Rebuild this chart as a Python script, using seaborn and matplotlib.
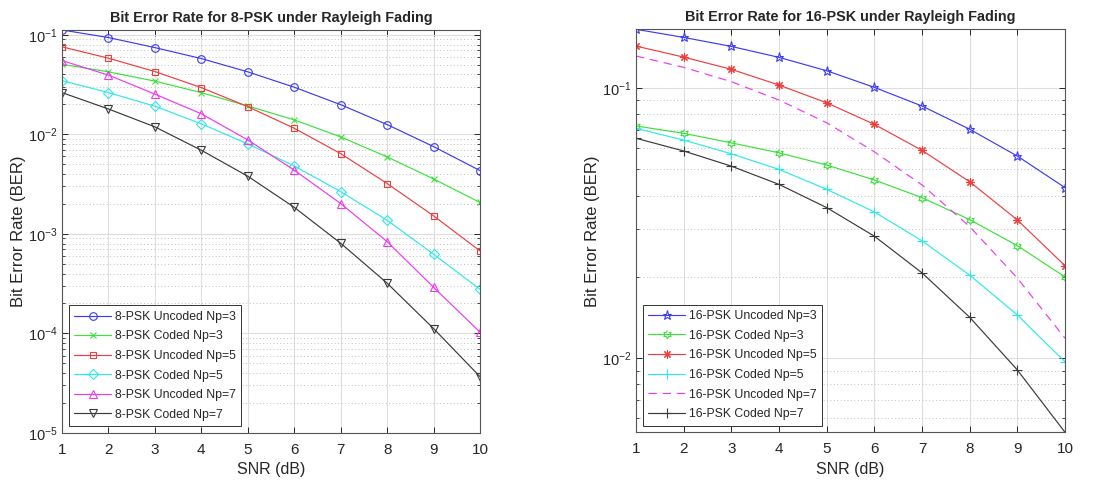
import numpy as np
import seaborn as sns
import matplotlib.pyplot as plt
from matplotlib.ticker import LogLocator, LogFormatterSciNotation, NullFormatter, FixedLocator

# SNR axis (dB)
snr = [1, 2, 3, 4, 5, 6, 7, 8, 9, 10]

# 8-PSK BER curves
ber8_unc_np3 = [0.112, 0.094, 0.0745, 0.0578, 0.0425, 0.0298, 0.0199, 0.01255, 0.00754, 0.00433]
ber8_cod_np3 = [0.0507, 0.0425, 0.0343, 0.0263, 0.0193, 0.0140, 0.00944, 0.00594, 0.00357, 0.00207]
ber8_unc_np5 = [0.0758, 0.0583, 0.0428, 0.0295, 0.0190, 0.01153, 0.00641, 0.00321, 0.00152, 0.000675]
ber8_cod_np5 = [0.0347, 0.0263, 0.0192, 0.01276, 0.00803, 0.00482, 0.00266, 0.001374, 0.000625, 0.000278]
ber8_unc_np7 = [0.0552, 0.0394, 0.0254, 0.0161, 0.0088, 0.00437, 0.00202, 0.000837, 0.000291, 0.000103]
ber8_cod_np7 = [0.0263, 0.0180, 0.0119, 0.00693, 0.0038, 0.00185, 0.000806, 0.00032, 0.000112, 0.0000368]

# 16-PSK BER curves
ber16_unc_np3 = [0.165, 0.154, 0.1426, 0.1299, 0.1159, 0.1006, 0.0858, 0.0704, 0.0560, 0.0428]
ber16_cod_np3 = [0.0724, 0.0680, 0.0627, 0.0576, 0.0519, 0.0457, 0.0393, 0.0326, 0.0261, 0.0200]
ber16_unc_np5 = [0.143, 0.1302, 0.1173, 0.1026, 0.0882, 0.0734, 0.0588, 0.0450, 0.0325, 0.0220]
ber16_cod_np5 = [0.0709, 0.0642, 0.0571, 0.0500, 0.0422, 0.0348, 0.0272, 0.0203, 0.01446, 0.0097]
ber16_unc_np7 = [0.1314, 0.1193, 0.1056, 0.0903, 0.0744, 0.0581, 0.0438, 0.0307, 0.0198, 0.01186]
ber16_cod_np7 = [0.0652, 0.0585, 0.0514, 0.0440, 0.0361, 0.0283, 0.0207, 0.01418, 0.00905, 0.00532]

FONT = ["Liberation Sans", "DejaVu Sans"]

sns.set_theme(style="white")
plt.rcParams["font.family"] = FONT
plt.rcParams["axes.unicode_minus"] = False

BLUE, GREEN, RED = "#3c3cf2", "#3ee03e", "#ef3e3e"
CYAN, MAGENTA, BLACK = "#30e8e8", "#ee3aee", "#3a3a3a"

# six-pointed star (MATLAB hexagram)
ang = np.deg2rad(np.arange(12) * 30 + 90)
rad = np.where(np.arange(12) % 2 == 0, 1.0, 0.577)
hexagram = list(zip(rad * np.cos(ang), rad * np.sin(ang)))


def draw(ax, x, y, color, marker, label, ls="-", ms=5.5):
    sns.lineplot(x=x, y=y, ax=ax, color=color, marker=marker, markersize=ms,
                 markerfacecolor="none", markeredgecolor=color, markeredgewidth=0.8,
                 linewidth=0.85, linestyle=ls, label=label, errorbar=None)


def style_axes(ax, title, ylim):
    ax.set_yscale("log")
    ax.set_xlim(1, 10)
    ax.set_ylim(*ylim)
    ax.xaxis.set_major_locator(FixedLocator(snr))
    ax.yaxis.set_major_locator(LogLocator(base=10))
    ax.yaxis.set_major_formatter(LogFormatterSciNotation())
    ax.yaxis.set_minor_locator(LogLocator(base=10, subs=np.arange(2, 10)))
    ax.yaxis.set_minor_formatter(NullFormatter())
    ax.grid(True, which="major", color="#dedede", linewidth=0.8, linestyle="-")
    ax.yaxis.grid(True, which="minor", color="#c0c0c0", linewidth=0.7, linestyle=(0, (1, 2.5)))
    ax.set_axisbelow(True)
    ax.tick_params(which="both", direction="in", top=True, right=True, bottom=True,
                   left=True, colors="#262626", labelsize=11)
    ax.tick_params(axis="y", labelsize=10.5)
    ax.tick_params(which="major", length=4, width=0.7)
    ax.tick_params(which="minor", length=2, width=0.6)
    ax.tick_params(axis="x", pad=7)
    ax.tick_params(axis="y", pad=3)
    for s in ax.spines.values():
        s.set_color("#555555")
        s.set_linewidth(0.8)
    ax.set_title(title, fontsize=10.4, fontweight="bold", pad=6)
    ax.set_xlabel("SNR (dB)", fontsize=11.5, labelpad=4)
    ax.set_ylabel("Bit Error Rate (BER)", fontsize=12, labelpad=1.5)
    leg = ax.legend(loc="lower left", fontsize=8.8, frameon=True, fancybox=False,
                    framealpha=1, edgecolor="#333333", handlelength=3.0,
                    handletextpad=0.3, labelspacing=0.62, borderpad=0.45,
                    borderaxespad=0.55)
    leg.get_frame().set_linewidth(0.7)


fig = plt.figure(figsize=(11.04, 4.82), dpi=100)
ax1 = fig.add_axes([0.0562, 0.1017, 0.3786, 0.8361])
ax2 = fig.add_axes([0.5761, 0.1031, 0.3886, 0.8361])

draw(ax1, snr, ber8_unc_np3, BLUE, "o", "8-PSK Uncoded Np=3")
draw(ax1, snr, ber8_cod_np3, GREEN, "x", "8-PSK Coded Np=3", ms=4.5)
draw(ax1, snr, ber8_unc_np5, RED, "s", "8-PSK Uncoded Np=5", ms=5)
draw(ax1, snr, ber8_cod_np5, CYAN, "D", "8-PSK Coded Np=5", ms=5)
draw(ax1, snr, ber8_unc_np7, MAGENTA, "^", "8-PSK Uncoded Np=7")
draw(ax1, snr, ber8_cod_np7, BLACK, "v", "8-PSK Coded Np=7")
style_axes(ax1, "Bit Error Rate for 8-PSK under Rayleigh Fading", (1e-5, max(ber8_unc_np3)))

draw(ax2, snr, ber16_unc_np3, BLUE, "*", "16-PSK Uncoded Np=3", ms=6.5)
draw(ax2, snr, ber16_cod_np3, GREEN, hexagram, "16-PSK Coded Np=3", ms=6)
draw(ax2, snr, ber16_unc_np5, RED, (8, 2, 0), "16-PSK Uncoded Np=5", ms=6)
draw(ax2, snr, ber16_cod_np5, CYAN, "+", "16-PSK Coded Np=5", ms=6.5)
draw(ax2, snr, ber16_unc_np7, MAGENTA, "None", "16-PSK Uncoded Np=7", ls=(0, (7, 5)))
draw(ax2, snr, ber16_cod_np7, BLACK, "+", "16-PSK Coded Np=7", ms=6.5)
style_axes(ax2, "Bit Error Rate for 16-PSK under Rayleigh Fading",
           (min(ber16_cod_np7), max(ber16_unc_np3)))

fig.savefig("out.png", dpi=100)
